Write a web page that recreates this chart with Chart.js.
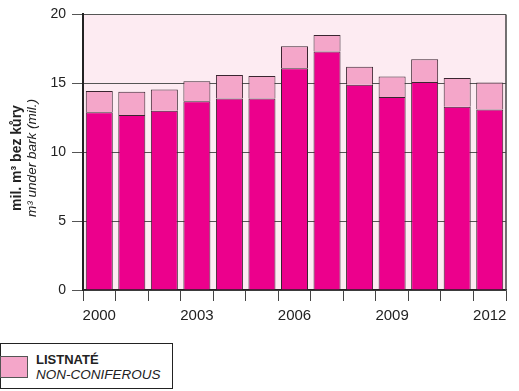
<!DOCTYPE html>
<html lang="cs">
<head>
<meta charset="UTF-8">
<title>Těžba dřeva</title>
<script src="https://cdn.jsdelivr.net/npm/chart.js"></script>
<style>
  body { margin: 0; background: #fff; font-family: "Liberation Sans", Arial, sans-serif; }
  #wrap { position: relative; width: 519px; height: 391px; }
  #legend { position: absolute; left: 0; top: 343px; width: 171px; height: 44px; border: 1.5px solid #222; background: #fff; }
  #legend .sw { position: absolute; left: -1px; top: 12px; width: 26px; height: 20px; background: #f4a6c9; border: 1px solid #555; }
  #legend .t1 { position: absolute; left: 35px; top: 8px; font-size: 13px; font-weight: bold; color: #222; }
  #legend .t2 { position: absolute; left: 35px; top: 23px; font-size: 13.5px; font-style: italic; color: #222; }
</style>
</head>
<body>
<div id="wrap">
  <canvas id="chart" width="519" height="391"></canvas>
  <div id="legend"><div class="sw"></div><div class="t1">LISTNATÉ</div><div class="t2">NON-CONIFEROUS</div></div>
</div>
<script>
// roky
const years = ['2000','2001','2002','2003','2004','2005','2006','2007','2008','2009','2010','2011','2012'];
// jehličnaté (coniferous), mil. m3
const jehlicnate = [12.9, 12.7, 13.0, 13.7, 13.9, 13.9, 16.1, 17.3, 14.9, 14.0, 15.1, 13.3, 13.1];
// listnaté (non-coniferous), mil. m3
const listnate = [1.55, 1.68, 1.55, 1.45, 1.7, 1.63, 1.58, 1.2, 1.3, 1.5, 1.65, 2.08, 1.96];
const yTicks = [0, 5, 10, 15, 20];

const bgPlugin = {
  id: 'bg',
  beforeDraw(chart) {
    const { ctx, chartArea: a } = chart;
    ctx.save();
    ctx.fillStyle = '#fdebf2';
    ctx.fillRect(a.left, a.top, a.right - a.left, a.bottom - a.top);
    ctx.restore();
  },
  afterDraw(chart) {
    const { ctx, chartArea: a } = chart;
    ctx.save();
    ctx.strokeStyle = '#444';
    ctx.lineWidth = 1.5;
    ctx.beginPath();
    ctx.moveTo(a.right, a.top);
    ctx.lineTo(a.right, a.bottom);
    ctx.stroke();
    // popisek osy y
    const cy = 158;
    ctx.fillStyle = '#222';
    ctx.textAlign = 'center';
    ctx.textBaseline = 'middle';
    ctx.translate(17, cy);
    ctx.rotate(-Math.PI / 2);
    ctx.font = 'bold 14px "Liberation Sans", Arial, sans-serif';
    ctx.fillText('mil. m³ bez kůry', 0, 0);
    ctx.font = 'italic 13.5px "Liberation Sans", Arial, sans-serif';
    ctx.fillText('m³ under bark (mil.)', 0, 15);
    ctx.restore();
  }
};

new Chart(document.getElementById('chart'), {
  type: 'bar',
  data: {
    labels: years,
    datasets: [
      { label: 'JEHLIČNATÉ', data: jehlicnate, backgroundColor: '#ec008c', borderColor: '#3a2530', borderWidth: 1, barPercentage: 0.83, categoryPercentage: 1 },
      { label: 'LISTNATÉ', data: listnate, backgroundColor: '#f4a6c9', borderColor: '#3a2530', borderWidth: 1, barPercentage: 0.83, categoryPercentage: 1 }
    ]
  },
  options: {
    responsive: false,
    animation: false,
    layout: { padding: { top: 8, right: 13, left: 0, bottom: 0 } },
    plugins: { legend: { display: false }, tooltip: { enabled: false } },
    scales: {
      x: {
        stacked: true,
        afterFit(s) { s.height = 101; },
        grid: { drawOnChartArea: false, offset: true, tickLength: 11, color: '#444', lineWidth: 1 },
        border: { color: '#222', width: 1.5 },
        ticks: {
          autoSkip: false, maxRotation: 0, padding: 6, color: '#222',
          font: { size: 15, family: '"Liberation Sans", Arial, sans-serif' },
          callback: (v, i) => (i % 3 === 0 ? years[i] : '')
        }
      },
      y: {
        stacked: true,
        min: 0, max: 20,
        afterFit(s) { s.width = 83; },
        afterBuildTicks(s) { s.ticks = yTicks.map(v => ({ value: v })); },
        grid: { color: '#555', lineWidth: 1, tickLength: 11 },
        border: { color: '#222', width: 2 },
        ticks: {
          padding: 6, color: '#222',
          font: { size: 14, family: '"Liberation Sans", Arial, sans-serif' }
        }
      }
    }
  },
  plugins: [bgPlugin]
});
</script>
</body>
</html>
